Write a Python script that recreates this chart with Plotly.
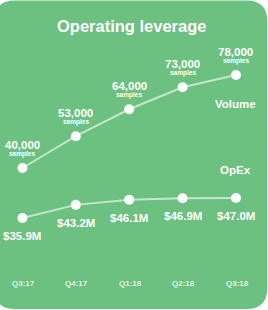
import plotly.graph_objects as go

quarters = ["Q3:17", "Q4:17", "Q1:18", "Q2:18", "Q3:18"]
volume = [40000, 53000, 64000, 73000, 78000]
volume_labels = ["40,000", "53,000", "64,000", "73,000", "78,000"]
opex = [35.9, 43.2, 46.1, 46.9, 47.0]
opex_labels = ["$35.9M", "$43.2M", "$46.1M", "$46.9M", "$47.0M"]
title_text = "Operating leverage"

W, H = 268, 310
GREEN = "#6cc080"
FONT = "Liberation Sans"
x = list(range(len(quarters)))


def px(xp, yp):
    return xp / W, 1 - yp / H


def rounded_path(x0, y0, x1, y1, r):
    pts = []
    def p(a, b):
        u, v = px(a, b)
        return f"{u:.5f},{v:.5f}"
    return (f"M {p(x0 + r, y0)} L {p(x1 - r, y0)} Q {p(x1, y0)} {p(x1, y0 + r)} "
            f"L {p(x1, y1 - r)} Q {p(x1, y1)} {p(x1 - r, y1)} "
            f"L {p(x0 + r, y1)} Q {p(x0, y1)} {p(x0, y1 - r)} "
            f"L {p(x0, y0 + r)} Q {p(x0, y0)} {p(x0 + r, y0)} Z")


fig = go.Figure()
line_style = dict(color="rgba(255,255,255,0.6)", width=2)
marker_style = dict(color="white", size=10)

fig.add_trace(go.Scatter(x=x, y=volume, mode="lines+markers", line=line_style,
                         marker=marker_style, yaxis="y", hoverinfo="skip"))
fig.add_trace(go.Scatter(x=x, y=opex, mode="lines+markers", line=line_style,
                         marker=marker_style, yaxis="y2", hoverinfo="skip"))

annotations = []
for i, (v, lab) in enumerate(zip(volume, volume_labels)):
    annotations.append(dict(x=i, y=v, xref="x", yref="y", text=f"<b>{lab}</b>",
                            showarrow=False, yshift=23,
                            font=dict(family=FONT, size=11.5, color="white")))
    annotations.append(dict(x=i, y=v, xref="x", yref="y", text="<b>samples</b>",
                            showarrow=False, yshift=14,
                            font=dict(family=FONT, size=6.5, color="white")))
for i, (o, lab) in enumerate(zip(opex, opex_labels)):
    annotations.append(dict(x=i, y=o, xref="x", yref="y2", text=f"<b>{lab}</b>",
                            showarrow=False, yshift=-18,
                            font=dict(family=FONT, size=11.5, color="white")))
for i, q in enumerate(quarters):
    annotations.append(dict(x=i + 0.02, y=1 - 290 / H, xref="x", yref="paper",
                            text=f"<b>{q}</b>", showarrow=False,
                            font=dict(family=FONT, size=8, color="rgba(255,255,255,0.85)")))
annotations.append(dict(x=len(quarters) - 1, y=volume[-1], xref="x", yref="y",
                        text="<b>Volume</b>", showarrow=False, yshift=-29,
                        font=dict(family=FONT, size=11.5, color="white")))
annotations.append(dict(x=len(quarters) - 1, y=opex[-1], xref="x", yref="y2",
                        text="<b>OpEx</b>", showarrow=False, yshift=28,
                        font=dict(family=FONT, size=11.5, color="white")))
tx, ty = px(131, 15)
annotations.append(dict(x=tx, y=ty, xref="paper", yref="paper",
                        text=f"<b>{title_text}</b>", showarrow=False,
                        font=dict(family=FONT, size=16.5, color="white")))

fig.update_layout(
    width=W, height=H,
    margin=dict(l=0, r=0, t=0, b=0),
    paper_bgcolor="white", plot_bgcolor="rgba(0,0,0,0)",
    showlegend=False,
    xaxis=dict(range=[-0.42, 4.6], visible=False, fixedrange=True),
    yaxis=dict(range=[-18030, 108655], visible=False, fixedrange=True),
    yaxis2=dict(range=[-15.2, 157.0], visible=False, overlaying="y", fixedrange=True),
    shapes=[dict(type="path", xref="paper", yref="paper",
                 path=rounded_path(-6, 0.6, 267.3, 309, 21),
                 fillcolor=GREEN, line=dict(width=0), layer="below")],
    annotations=annotations,
)

fig.write_html("out.html", config=dict(displayModeBar=False))
